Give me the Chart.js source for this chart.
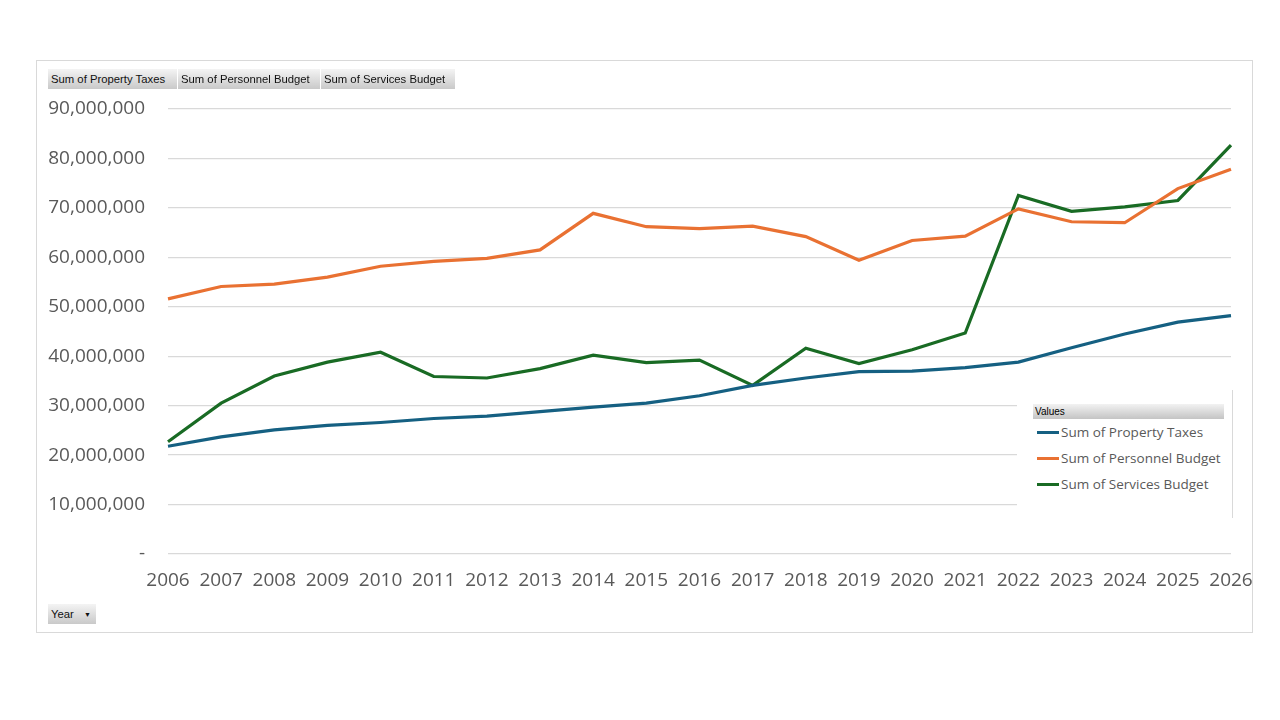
<!DOCTYPE html>
<html>
<head>
<meta charset="utf-8">
<script src="https://cdn.jsdelivr.net/npm/chart.js@4.4.1/dist/chart.umd.min.js"></script>
<style>
  html, body { margin: 0; padding: 0; background: #fff; }
  #wrap { position: relative; width: 1280px; height: 720px; overflow: hidden; }
  #frame { position: absolute; left: 36px; top: 60px; width: 1217px; height: 573px; border: 1px solid #d9d9d9; box-sizing: border-box; }
  canvas { position: absolute; left: 0; top: 0; }
  .btn { position: absolute; height: 20px; line-height: 20px; font-family: "Liberation Sans", Arial, sans-serif; font-size: 11.3px; color: #111;
         background: linear-gradient(#f4f4f4, #c9c9c9); box-sizing: border-box; padding-left: 3px; white-space: nowrap; }
  #legend { position: absolute; left: 1017px; top: 390px; width: 216px; height: 128px; background: #fff; border-right: 1px solid #d9d9d9; box-sizing: border-box; }
  #lghead { position: absolute; left: 16px; top: 14px; width: 191px; height: 15px; line-height: 15px; font-family: "Liberation Sans", Arial, sans-serif; font-size: 10px; color: #000;
            background: linear-gradient(#f2f2f2, #c4c4c4); padding-left: 2px; box-sizing: border-box; }
  .lgi { position: absolute; left: 20px; height: 20px; line-height: 20px; font-family: "Open Sans", sans-serif; font-size: 13.5px; color: #595959; white-space: nowrap; }
  .lgi span { display: inline-block; width: 22px; height: 3px; vertical-align: middle; margin-right: 2px; position: relative; top: -1px; }
</style>
</head>
<body>
<div id="wrap">
  <div id="frame"></div>
  <canvas id="c" width="1280" height="720"></canvas>
  <div class="btn" style="left:48px;top:69px;width:129px;">Sum of Property Taxes</div>
  <div class="btn" style="left:178px;top:69px;width:142px;">Sum of Personnel Budget</div>
  <div class="btn" style="left:321px;top:69px;width:134px;">Sum of Services Budget</div>
  <div class="btn" style="left:48px;top:604px;width:48px;">Year <span style="font-size:7px;margin-left:7px;position:relative;top:-1px;">&#9660;</span></div>
  <div id="legend">
    <div id="lghead">Values</div>
    <div class="lgi" style="top:32px;"><span style="background:#156082"></span>Sum of Property Taxes</div>
    <div class="lgi" style="top:58px;"><span style="background:#E97132"></span>Sum of Personnel Budget</div>
    <div class="lgi" style="top:84px;"><span style="background:#196B24"></span>Sum of Services Budget</div>
  </div>
</div>
<script>
const years = ["2006","2007","2008","2009","2010","2011","2012","2013","2014","2015","2016","2017","2018","2019","2020","2021","2022","2023","2024","2025","2026"];
const propertyTaxes = [21.8,23.7,25.1,26.0,26.6,27.4,27.9,28.8,29.7,30.5,32.0,34.1,35.6,36.9,37.0,37.7,38.8,41.7,44.5,46.9,48.2].map(v => v * 1e6);
const personnelBudget = [51.6,54.1,54.6,56.0,58.2,59.2,59.8,61.5,68.9,66.2,65.8,66.3,64.2,59.4,63.4,64.3,69.8,67.2,67.0,73.9,77.8].map(v => v * 1e6);
const servicesBudget = [22.7,30.5,36.0,38.8,40.8,35.9,35.6,37.5,40.2,38.7,39.2,34.1,41.6,38.5,41.3,44.7,72.5,69.3,70.2,71.5,82.7].map(v => v * 1e6);
const seriesNames = ["Sum of Property Taxes","Sum of Personnel Budget","Sum of Services Budget"];
const seriesColors = ["#156082","#E97132","#196B24"];

const axisFont = { family: "Open Sans", size: 19 };
new Chart(document.getElementById('c'), {
  type: 'line',
  data: {
    labels: years,
    datasets: [propertyTaxes, personnelBudget, servicesBudget].map((d, i) => ({
      label: seriesNames[i], data: d, borderColor: seriesColors[i], backgroundColor: seriesColors[i],
      borderWidth: 3.2, pointRadius: 0, tension: 0, fill: false
    }))
  },
  options: {
    responsive: false, animation: false,
    layout: { padding: { left: 0, top: 109, right: 49, bottom: 100 } },
    plugins: { legend: { display: false }, tooltip: { enabled: false } },
    scales: {
      x: {
        offset: false,
        grid: { display: false, drawTicks: false },
        border: { display: false },
        ticks: { color: '#595959', font: axisFont, padding: 15, maxRotation: 0, autoSkip: false },
        afterFit: s => { s.height = 66; }
      },
      y: {
        min: 0, max: 90000000,
        grid: { color: '#d9d9d9', lineWidth: 1.3, drawTicks: false },
        border: { display: false },
        ticks: { stepSize: 10000000, color: '#595959', font: axisFont, padding: 23,
                 callback: v => v === 0 ? '-' : v.toLocaleString('en-US') },
        afterFit: s => { s.width = 168; }
      }
    }
  }
});
</script>
</body>
</html>
